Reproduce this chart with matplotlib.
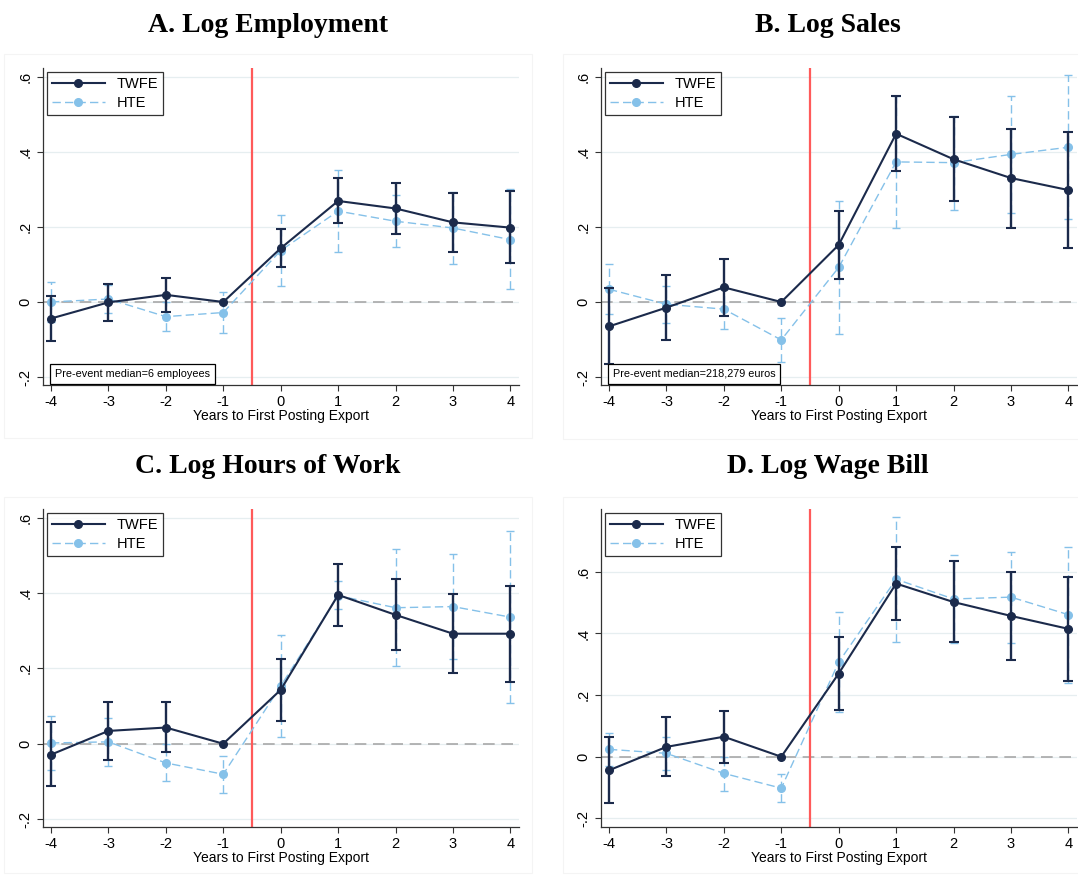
import numpy as np
import matplotlib.pyplot as plt
from matplotlib.lines import Line2D
from matplotlib.patches import Rectangle

plt.rcParams['font.family'] = ['Liberation Sans', 'DejaVu Sans']
plt.rcParams['axes.unicode_minus'] = False

# event time
event_time = [-4, -3, -2, -1, 0, 1, 2, 3, 4]

# A. Log Employment
twfe_emp = [-0.044, -0.001, 0.019, 0.0, 0.143, 0.269, 0.249, 0.212, 0.198]
twfe_emp_lo = [-0.103, -0.050, -0.026, 0.0, 0.092, 0.209, 0.181, 0.132, 0.103]
twfe_emp_hi = [0.016, 0.048, 0.063, 0.0, 0.194, 0.329, 0.318, 0.291, 0.295]
hte_emp = [0.000, 0.008, -0.039, -0.028, 0.137, 0.242, 0.215, 0.197, 0.166]
hte_emp_lo = [-0.053, -0.028, -0.077, -0.083, 0.042, 0.134, 0.146, 0.102, 0.034]
hte_emp_hi = [0.053, 0.046, -0.001, 0.027, 0.231, 0.351, 0.284, 0.292, 0.301]

# B. Log Sales
twfe_sales = [-0.065, -0.015, 0.039, 0.0, 0.152, 0.448, 0.380, 0.330, 0.298]
twfe_sales_lo = [-0.166, -0.101, -0.037, 0.0, 0.062, 0.349, 0.268, 0.198, 0.143]
twfe_sales_hi = [0.036, 0.071, 0.115, 0.0, 0.242, 0.548, 0.493, 0.461, 0.452]
hte_sales = [0.034, -0.006, -0.019, -0.101, 0.092, 0.373, 0.371, 0.393, 0.412]
hte_sales_lo = [-0.033, -0.055, -0.073, -0.160, -0.086, 0.198, 0.244, 0.238, 0.222]
hte_sales_hi = [0.101, 0.043, 0.035, -0.042, 0.270, 0.548, 0.495, 0.549, 0.604]

# C. Log Hours of Work
twfe_hours = [-0.029, 0.034, 0.043, 0.0, 0.143, 0.395, 0.342, 0.292, 0.292]
twfe_hours_lo = [-0.112, -0.042, -0.023, 0.0, 0.060, 0.312, 0.250, 0.187, 0.165]
twfe_hours_hi = [0.057, 0.111, 0.112, 0.0, 0.225, 0.478, 0.436, 0.398, 0.419]
hte_hours = [0.002, 0.005, -0.051, -0.081, 0.153, 0.393, 0.361, 0.364, 0.336]
hte_hours_lo = [-0.069, -0.060, -0.100, -0.130, 0.018, 0.357, 0.206, 0.225, 0.109]
hte_hours_hi = [0.073, 0.069, -0.002, -0.032, 0.288, 0.431, 0.516, 0.504, 0.565]

# D. Log Wage Bill
twfe_wage = [-0.044, 0.032, 0.065, 0.0, 0.270, 0.562, 0.502, 0.457, 0.415]
twfe_wage_lo = [-0.151, -0.063, -0.019, 0.0, 0.152, 0.445, 0.371, 0.315, 0.245]
twfe_wage_hi = [0.064, 0.128, 0.150, 0.0, 0.387, 0.681, 0.634, 0.601, 0.584]
hte_wage = [0.024, 0.011, -0.054, -0.102, 0.307, 0.576, 0.512, 0.518, 0.461]
hte_wage_lo = [-0.030, -0.042, -0.110, -0.148, 0.146, 0.374, 0.370, 0.370, 0.240]
hte_wage_hi = [0.076, 0.065, 0.000, -0.056, 0.471, 0.779, 0.655, 0.665, 0.682]

titles = ['A. Log Employment', 'B. Log Sales', 'C. Log Hours of Work', 'D. Log Wage Bill']
notes = ['Pre-event median=6 employees', 'Pre-event median=218,279 euros', None, None]
yticks = [-0.2, 0, 0.2, 0.4, 0.6]
ytick_labels = ['-.2', '0', '.2', '.4', '.6']
ylims = [(-0.221, 0.623), (-0.221, 0.623), (-0.221, 0.623), (-0.228, 0.804)]

panels = [
    (twfe_emp, twfe_emp_lo, twfe_emp_hi, hte_emp, hte_emp_lo, hte_emp_hi),
    (twfe_sales, twfe_sales_lo, twfe_sales_hi, hte_sales, hte_sales_lo, hte_sales_hi),
    (twfe_hours, twfe_hours_lo, twfe_hours_hi, hte_hours, hte_hours_lo, hte_hours_hi),
    (twfe_wage, twfe_wage_lo, twfe_wage_hi, hte_wage, hte_wage_lo, hte_wage_hi),
]

NAVY = '#1b2a4b'
LBLUE = '#85c1e9'
W, H = 1078, 875

fig = plt.figure(figsize=(W / 100, H / 100), dpi=100)

# axes boxes in pixels: left, top, bottom
boxes = [(42.7, 68, 385), (600.7, 68, 385), (42.7, 509, 827), (600.7, 509, 827)]
ax_w = 476
title_pos = [(268, 32), (828, 32), (268, 473), (828, 473)]
frames = [(4, 54, 532, 438), (563, 54, 1085, 439), (4, 497, 532, 873), (563, 497, 1085, 873)]

# faint outlines of each sub-graph
for x0, y0, x1, y1 in frames:
    fig.add_artist(Rectangle((x0 / W, (H - y1) / H), (x1 - x0) / W, (y1 - y0) / H,
                             transform=fig.transFigure, fill=False,
                             ec='#f4f4f4', lw=0.8))

x = np.array(event_time)
for i, (tw, tlo, thi, ht, hlo, hhi) in enumerate(panels):
    left, top, bottom = boxes[i]
    ax = fig.add_axes([left / W, (H - bottom) / H, ax_w / W, (bottom - top) / H])
    tw, tlo, thi = np.array(tw), np.array(tlo), np.array(thi)
    ht, hlo, hhi = np.array(ht), np.array(hlo), np.array(hhi)

    for yv in yticks:
        ax.axhline(yv, color='#e6eef0', lw=0.9, zorder=0)
    ax.axhline(0, color='#a8a8a8', lw=1.2, ls=(0, (7, 4)), zorder=1)
    ax.axvline(-0.5, color='#ff5a5a', lw=1.6, zorder=1)

    # HTE
    ax.plot(x, ht, color=LBLUE, lw=1.0, ls=(0, (6, 3)), marker='o', ms=5.5,
            mec=LBLUE, mfc=LBLUE, zorder=3)
    eb = ax.errorbar(x, ht, yerr=[ht - hlo, hhi - ht], fmt='none', ecolor=LBLUE,
                     elinewidth=1.0, capsize=3.2, capthick=1.0, zorder=3)
    eb[2][0].set_linestyle((0, (6, 3)))

    # TWFE (reference period has no interval)
    m = thi > tlo
    ax.errorbar(x[m], tw[m], yerr=[tw[m] - tlo[m], thi[m] - tw[m]], fmt='none',
                ecolor=NAVY, elinewidth=1.7, capsize=3.6, capthick=1.5, zorder=4)
    ax.plot(x, tw, color=NAVY, lw=1.5, marker='o', ms=5.5, zorder=5)

    ax.set_xlim(-4.144, 4.144)
    ax.set_ylim(*ylims[i])
    ax.set_xticks(event_time)
    ax.set_yticks(yticks)
    ax.set_yticklabels(ytick_labels, rotation=90, va='center')
    ax.tick_params(axis='both', labelsize=10.5, length=4.5, width=0.8,
                   color='#333333', pad=3)
    for s in ['top', 'right']:
        ax.spines[s].set_visible(False)
    for s in ['left', 'bottom']:
        ax.spines[s].set_color('#333333')
        ax.spines[s].set_linewidth(0.9)
    ax.set_xlabel('Years to First Posting Export', fontsize=10, labelpad=0)

    handles = [Line2D([], [], color=NAVY, lw=1.5, marker='o', ms=5.5),
               Line2D([], [], color=LBLUE, lw=1.0, ls=(0, (6, 3)), marker='o', ms=5.5)]
    leg = ax.legend(handles, ['TWFE', 'HTE'], loc='upper left', fontsize=10.5,
                    handlelength=3.6, borderaxespad=0.3, frameon=True,
                    fancybox=False, edgecolor='black', borderpad=0.35,
                    labelspacing=0.3, bbox_to_anchor=(0.0, 1.0))
    leg.get_frame().set_linewidth(0.9)

    if notes[i]:
        ax.text(-3.93, 0.02, notes[i], transform=ax.get_xaxis_transform(),
                fontsize=7.8, ha='left', va='bottom', zorder=6,
                bbox=dict(boxstyle='square,pad=0.45', fc='white', ec='black', lw=0.9))

    tx, ty = title_pos[i]
    fig.text(tx / W, 1 - ty / H, titles[i], ha='center', va='baseline',
             fontsize=20, fontweight='bold', family='Liberation Serif')

fig.savefig('out.png', dpi=100)
